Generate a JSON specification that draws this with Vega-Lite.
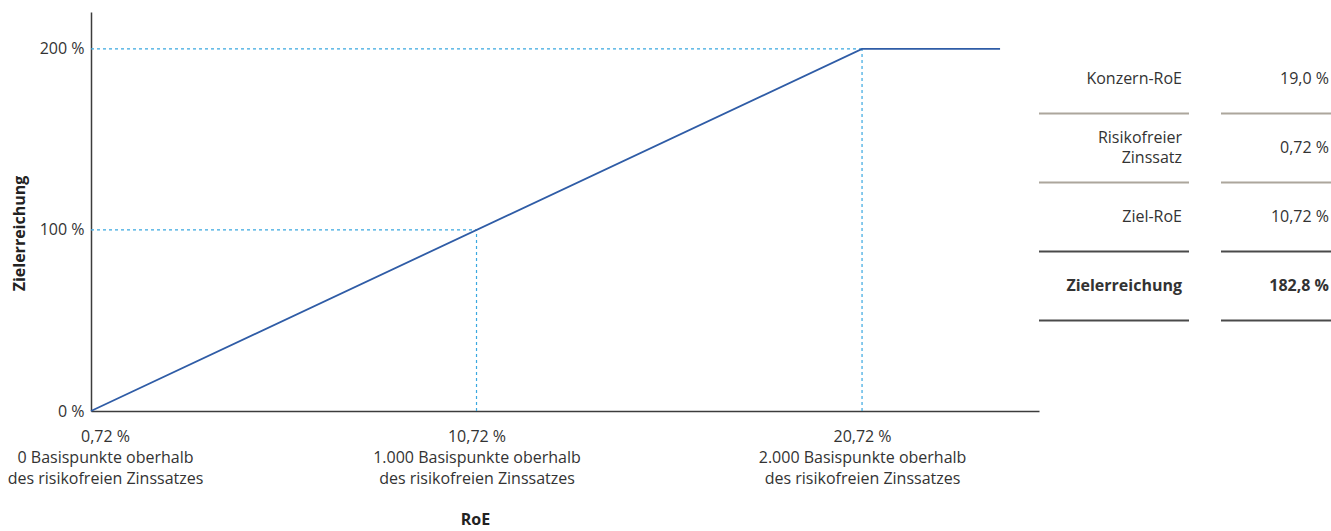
{
  "$schema": "https://vega.github.io/schema/vega-lite/v6.json",
  "padding": {"left": 7, "top": 12, "right": 0, "bottom": 0},
  "background": "white",
  "config": {
    "view": {"stroke": null},
    "font": "Open Sans",
    "text": {"color": "#333333", "font": "Open Sans"}
  },
  "datasets": {
    "curve": [
      {"roe": 0.72, "ziel": 0},
      {"roe": 20.72, "ziel": 200},
      {"roe": 24.3, "ziel": 200}
    ],
    "guides": [
      {"roe": 0.72, "roe2": 10.72, "ziel": 100, "ziel2": 100},
      {"roe": 10.72, "roe2": 10.72, "ziel": 0, "ziel2": 100},
      {"roe": 0.72, "roe2": 20.72, "ziel": 200, "ziel2": 200},
      {"roe": 20.72, "roe2": 20.72, "ziel": 0, "ziel2": 200}
    ],
    "table": [
      {"row": 0, "label": "Konzern-RoE", "value": "19,0 %", "tone": "light", "total": false},
      {"row": 1, "label": "Risikofreier\nZinssatz", "value": "0,72 %", "tone": "light", "total": false},
      {"row": 2, "label": "Ziel-RoE", "value": "10,72 %", "tone": "dark", "total": false},
      {"row": 3, "label": "Zielerreichung", "value": "182,8 %", "tone": "dark", "total": true}
    ]
  },
  "spacing": -4,
  "hconcat": [
    {
      "width": 948,
      "height": 399,
      "layer": [
        {
          "data": {"name": "guides"},
          "mark": {"type": "rule", "color": "#3aa8e0", "strokeWidth": 1.2, "strokeDash": [3, 3]},
          "encoding": {
            "x": {"field": "roe", "type": "quantitative"},
            "x2": {"field": "roe2"},
            "y": {"field": "ziel", "type": "quantitative"},
            "y2": {"field": "ziel2"}
          }
        },
        {
          "data": {"name": "curve"},
          "mark": {"type": "line", "color": "#2f5ca6", "strokeWidth": 1.8},
          "encoding": {
            "x": {
              "field": "roe", "type": "quantitative",
              "scale": {"domain": [0.72, 25.31], "nice": false, "zero": false},
              "axis": {
                "values": [0.72, 10.72, 20.72],
                "labelExpr": "datum.value < 5 ? ['0,72 %', '0 Basispunkte oberhalb', 'des risikofreien Zinssatzes'] : datum.value < 15 ? ['10,72 %', '1.000 Basispunkte oberhalb', 'des risikofreien Zinssatzes'] : ['20,72 %', '2.000 Basispunkte oberhalb', 'des risikofreien Zinssatzes']",
                "labelOffset": {"condition": {"test": "datum.value < 5", "value": 14}, "value": 0},
                "grid": false, "ticks": false,
                "domainColor": "#3c3c3c", "domainWidth": 1.5,
                "labelFontSize": 16, "labelColor": "#333333", "labelLineHeight": 21,
                "labelPadding": 17, "labelOverlap": false, "labelFlush": false, "labelLimit": 0,
                "title": "RoE", "titleFontSize": 16, "titleFontWeight": "bold", "titleColor": "#222222",
                "titleX": 384, "titlePadding": 25
              }
            },
            "y": {
              "field": "ziel", "type": "quantitative",
              "scale": {"domain": [0, 220.4], "nice": false},
              "axis": {
                "values": [0, 100, 200],
                "labelExpr": "datum.value + ' %'",
                "grid": false, "ticks": false,
                "domainColor": "#3c3c3c", "domainWidth": 1.5,
                "labelFontSize": 16, "labelColor": "#333333", "labelPadding": 7,
                "title": "Zielerreichung", "titleFontSize": 16, "titleFontWeight": "bold", "titleColor": "#222222",
                "titleY": 221, "titlePadding": 12
              }
            }
          }
        }
      ]
    },
    {
      "spacing": 30,
      "hconcat": [
        {
          "width": 150,
          "height": 399,
          "data": {"name": "table"},
          "layer": [
            {
              "mark": {"type": "rule", "strokeWidth": 2},
              "encoding": {
                "y": {"field": "row", "type": "ordinal", "bandPosition": 1,
                      "scale": {"type": "band", "paddingInner": 0, "paddingOuter": 0.8913, "align": 0.264}, "axis": null},
                "color": {"field": "tone", "type": "nominal",
                          "scale": {"domain": ["light", "dark"], "range": ["#aca69c", "#4a4a4a"]}, "legend": null}
              }
            },
            {
              "transform": [{"filter": "!datum.total && indexof(datum.label, '\\n') < 0"}],
              "mark": {"type": "text", "align": "right", "baseline": "middle", "fontSize": 16, "dx": -7},
              "encoding": {
                "x": {"value": "width"},
                "y": {"field": "row", "type": "ordinal", "scale": {"type": "band", "paddingInner": 0, "paddingOuter": 0.8913, "align": 0.264}, "axis": null},
                "text": {"field": "label"}
              }
            },
            {
              "transform": [{"filter": "indexof(datum.label, '\\n') >= 0"}],
              "mark": {"type": "text", "align": "right", "baseline": "middle", "fontSize": 16, "lineBreak": "\n", "lineHeight": 20, "dx": -7, "dy": -10},
              "encoding": {
                "x": {"value": "width"},
                "y": {"field": "row", "type": "ordinal", "scale": {"type": "band", "paddingInner": 0, "paddingOuter": 0.8913, "align": 0.264}, "axis": null},
                "text": {"field": "label"}
              }
            },
            {
              "transform": [{"filter": "datum.total"}],
              "mark": {"type": "text", "align": "right", "baseline": "middle", "fontSize": 16, "fontWeight": "bold", "dx": -7},
              "encoding": {
                "x": {"value": "width"},
                "y": {"field": "row", "type": "ordinal", "scale": {"type": "band", "paddingInner": 0, "paddingOuter": 0.8913, "align": 0.264}, "axis": null},
                "text": {"field": "label"}
              }
            }
          ]
        },
        {
          "width": 110,
          "height": 399,
          "data": {"name": "table"},
          "layer": [
            {
              "mark": {"type": "rule", "strokeWidth": 2},
              "encoding": {
                "y": {"field": "row", "type": "ordinal", "bandPosition": 1,
                      "scale": {"type": "band", "paddingInner": 0, "paddingOuter": 0.8913, "align": 0.264}, "axis": null},
                "color": {"field": "tone", "type": "nominal",
                          "scale": {"domain": ["light", "dark"], "range": ["#aca69c", "#4a4a4a"]}, "legend": null}
              }
            },
            {
              "transform": [{"filter": "!datum.total"}],
              "mark": {"type": "text", "align": "right", "baseline": "middle", "fontSize": 16, "dx": -2},
              "encoding": {
                "x": {"value": "width"},
                "y": {"field": "row", "type": "ordinal", "scale": {"type": "band", "paddingInner": 0, "paddingOuter": 0.8913, "align": 0.264}, "axis": null},
                "text": {"field": "value"}
              }
            },
            {
              "transform": [{"filter": "datum.total"}],
              "mark": {"type": "text", "align": "right", "baseline": "middle", "fontSize": 16, "fontWeight": "bold", "dx": -2},
              "encoding": {
                "x": {"value": "width"},
                "y": {"field": "row", "type": "ordinal", "scale": {"type": "band", "paddingInner": 0, "paddingOuter": 0.8913, "align": 0.264}, "axis": null},
                "text": {"field": "value"}
              }
            }
          ]
        }
      ]
    }
  ]
}
